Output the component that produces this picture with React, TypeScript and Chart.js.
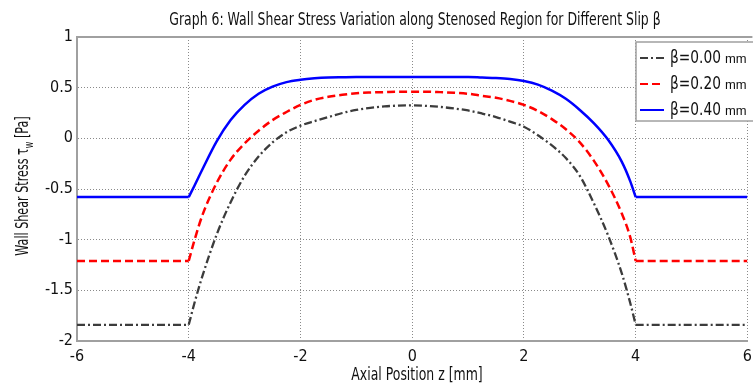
import React, { useEffect, useRef } from "react";
import { Chart, registerables } from "chart.js";

Chart.register(...registerables);

// ---------- data ----------
const zPositions = [-6, -4, -3.9, -3.75, -3.5, -3.25, -3, -2.75, -2.5, -2.25, -2, -1.75, -1.5, -1.25, -1, -0.75, -0.5, -0.25, 0, 0.25, 0.5, 0.75, 1, 1.25, 1.5, 1.75, 2, 2.25, 2.5, 2.75, 3, 3.25, 3.5, 3.75, 3.9, 4, 6];
const tauBeta000 = [-1.84, -1.84, -1.63, -1.35, -0.95, -0.63, -0.37, -0.18, -0.04, 0.06, 0.125, 0.17, 0.21, 0.25, 0.28, 0.3, 0.315, 0.323, 0.325, 0.32, 0.31, 0.295, 0.275, 0.245, 0.21, 0.165, 0.115, 0.03, -0.07, -0.195, -0.37, -0.64, -0.95, -1.33, -1.62, -1.84, -1.84];
const tauBeta020 = [-1.21, -1.21, -1.01, -0.75, -0.44, -0.21, -0.05, 0.075, 0.18, 0.26, 0.33, 0.38, 0.41, 0.43, 0.445, 0.452, 0.456, 0.46, 0.46, 0.46, 0.456, 0.45, 0.44, 0.42, 0.4, 0.37, 0.33, 0.27, 0.19, 0.09, -0.04, -0.22, -0.45, -0.74, -0.97, -1.21, -1.21];
const tauBeta040 = [-0.58, -0.58, -0.47, -0.3, -0.03, 0.18, 0.33, 0.44, 0.51, 0.555, 0.578, 0.592, 0.6, 0.603, 0.605, 0.605, 0.605, 0.605, 0.605, 0.605, 0.605, 0.605, 0.605, 0.6, 0.595, 0.585, 0.565, 0.53, 0.47, 0.39, 0.28, 0.15, -0.01, -0.23, -0.42, -0.58, -0.58];

const seriesLabels = ["β=0.00", "β=0.20", "β=0.40"];
const legendUnit = "mm";
const xTickValues = [-6, -4, -2, 0, 2, 4, 6];
const yTickValues = [1, 0.5, 0, -0.5, -1, -1.5, -2];
const titleText = "Graph 6: Wall Shear Stress Variation along Stenosed Region for Different Slip β";
const xAxisTitle = "Axial Position z [mm]";
const yAxisTitleMain = "Wall Shear Stress τ";
const yAxisTitleSub = "w";
const yAxisTitleTail = " [Pa]";

const NARROW = "'Liberation Sans Narrow', 'DejaVu Sans Condensed', 'Roboto Condensed', sans-serif";

const seriesStyles = [
  { color: "#3c3c3c", dash: [8, 3, 2, 3], width: 2.3 },
  { color: "#ff0000", dash: [8, 4], width: 2.5 },
  { color: "#0000ff", dash: [] as number[], width: 2.5 },
];

function drawScaled(ctx: CanvasRenderingContext2D, text: string, x: number, y: number, font: string, sx: number, align: CanvasTextAlign) {
  ctx.save();
  ctx.font = font;
  ctx.translate(x, y);
  ctx.scale(sx, 1);
  ctx.textAlign = align;
  ctx.textBaseline = "middle";
  ctx.fillText(text, 0, 0);
  ctx.restore();
}

const decorPlugin = {
  id: "decor",
  afterDraw(chart: any) {
    const ctx: CanvasRenderingContext2D = chart.ctx;
    const area = chart.chartArea;
    ctx.save();
    // top frame line
    ctx.strokeStyle = "#a0a0a0";
    ctx.lineWidth = 2;
    ctx.beginPath();
    ctx.moveTo(area.left, area.top);
    ctx.lineTo(area.right + 5, area.top);
    ctx.stroke();

    ctx.fillStyle = "#111111";
    const sx = 0.77;
    const titleFont = `18px ${NARROW}`;
    drawScaled(ctx, titleText, 415, 20, titleFont, sx, "center");
    drawScaled(ctx, xAxisTitle, 417, 375, titleFont, sx, "center");

    // y axis title with subscript
    const sy = 0.69;
    ctx.save();
    ctx.translate(23, 186);
    ctx.rotate(-Math.PI / 2);
    ctx.font = titleFont;
    const wMain = ctx.measureText(yAxisTitleMain).width * sy;
    const wTail = ctx.measureText(yAxisTitleTail).width * sy;
    ctx.font = `13px ${NARROW}`;
    const wSub = ctx.measureText(yAxisTitleSub).width * sy;
    const total = wMain + wSub + wTail;
    let x = -total / 2;
    drawScaled(ctx, yAxisTitleMain, x, 0, titleFont, sy, "left");
    x += wMain;
    drawScaled(ctx, yAxisTitleSub, x, 7, `13px ${NARROW}`, sy, "left");
    x += wSub;
    drawScaled(ctx, yAxisTitleTail, x, 0, titleFont, sy, "left");
    ctx.restore();

    // legend
    const lx = 636, ly = 42, lw = 130, lh = 79;
    ctx.fillStyle = "#ffffff";
    ctx.fillRect(lx, ly, lw, lh);
    ctx.strokeStyle = "#a0a0a0";
    ctx.lineWidth = 1.5;
    ctx.strokeRect(lx, ly, lw, lh);
    const rows = [58, 84, 110];
    seriesLabels.forEach((lab, i) => {
      const st = seriesStyles[i];
      ctx.save();
      ctx.strokeStyle = st.color;
      ctx.lineWidth = 2;
      ctx.setLineDash(st.dash);
      ctx.beginPath();
      ctx.moveTo(640, rows[i]);
      ctx.lineTo(664, rows[i]);
      ctx.stroke();
      ctx.restore();
      ctx.fillStyle = "#111111";
      ctx.font = titleFont;
      const w = ctx.measureText(lab).width * 0.85;
      drawScaled(ctx, lab, 670, rows[i], titleFont, 0.85, "left");
      drawScaled(ctx, legendUnit, 670 + w + 4, rows[i] + 1, `13px 'Liberation Sans', Arial, sans-serif`, 1, "left");
    });
    ctx.restore();
  },
};

export default function App() {
  const canvasRef = useRef<HTMLCanvasElement | null>(null);

  useEffect(() => {
    const canvas = canvasRef.current;
    if (!canvas) return;
    const n = zPositions.length;
    const datasets: any[] = [];
    [tauBeta000, tauBeta020, tauBeta040].forEach((vals, i) => {
      const st = seriesStyles[i];
      const common = {
        borderColor: st.color,
        borderDash: st.dash,
        borderWidth: st.width,
        pointRadius: 0,
        fill: false,
      };
      // flat outer segments (straight), with a gap in between
      datasets.push({
        ...common,
        label: seriesLabels[i] + " outer",
        spanGaps: false,
        tension: 0,
        data: [
          { x: zPositions[0], y: vals[0] },
          { x: zPositions[1], y: vals[1] },
          { x: zPositions[Math.floor(n / 2)], y: null },
          { x: zPositions[n - 2], y: vals[n - 2] },
          { x: zPositions[n - 1], y: vals[n - 1] },
        ],
      });
      // smooth stenosed-region segment
      datasets.push({
        ...common,
        label: seriesLabels[i],
        cubicInterpolationMode: "monotone",
        data: zPositions.slice(1, n - 1).map((z, j) => ({ x: z, y: vals[j + 1] })),
      });
    });
    const tickFont = { family: NARROW, size: 16 };
    const fmt = (v: any) => String(Number(v));
    const chart = new Chart(canvas, {
      type: "line",
      data: { datasets },
      plugins: [decorPlugin],
      options: {
        animation: false,
        responsive: false,
        maintainAspectRatio: false,
        layout: { padding: { top: 37, right: 2, left: 0, bottom: 0 } },
        plugins: { legend: { display: false }, title: { display: false }, tooltip: { enabled: false } },
        scales: {
          x: {
            type: "linear",
            min: -6,
            max: 6,
            afterBuildTicks: (s: any) => { s.ticks = xTickValues.map((v) => ({ value: v })); },
            afterFit: (s: any) => { s.height = 44; },
            ticks: { color: "#111111", font: tickFont, padding: 6, autoSkip: false, maxRotation: 0, callback: fmt },
            grid: { color: "#8a8a8a", lineWidth: 1, drawTicks: false },
            border: { color: "#a0a0a0", width: 2, dash: [1, 2] },
          },
          y: {
            type: "linear",
            min: -2,
            max: 1,
            afterBuildTicks: (s: any) => { s.ticks = yTickValues.map((v) => ({ value: v })); },
            afterFit: (s: any) => { s.width = 77; },
            ticks: { color: "#111111", font: tickFont, padding: 4, autoSkip: false, callback: fmt },
            grid: { color: "#8a8a8a", lineWidth: 1, drawTicks: false },
            border: { color: "#a0a0a0", width: 2, dash: [1, 2] },
          },
        },
      },
    });
    return () => chart.destroy();
  }, []);

  return (
    <div style={{ position: "fixed", left: 0, top: 0, width: 753, height: 385, overflow: "hidden", background: "#ffffff" }}>
      <canvas ref={canvasRef} width={758} height={385} style={{ display: "block", width: 758, height: 385 }} />
    </div>
  );
}
